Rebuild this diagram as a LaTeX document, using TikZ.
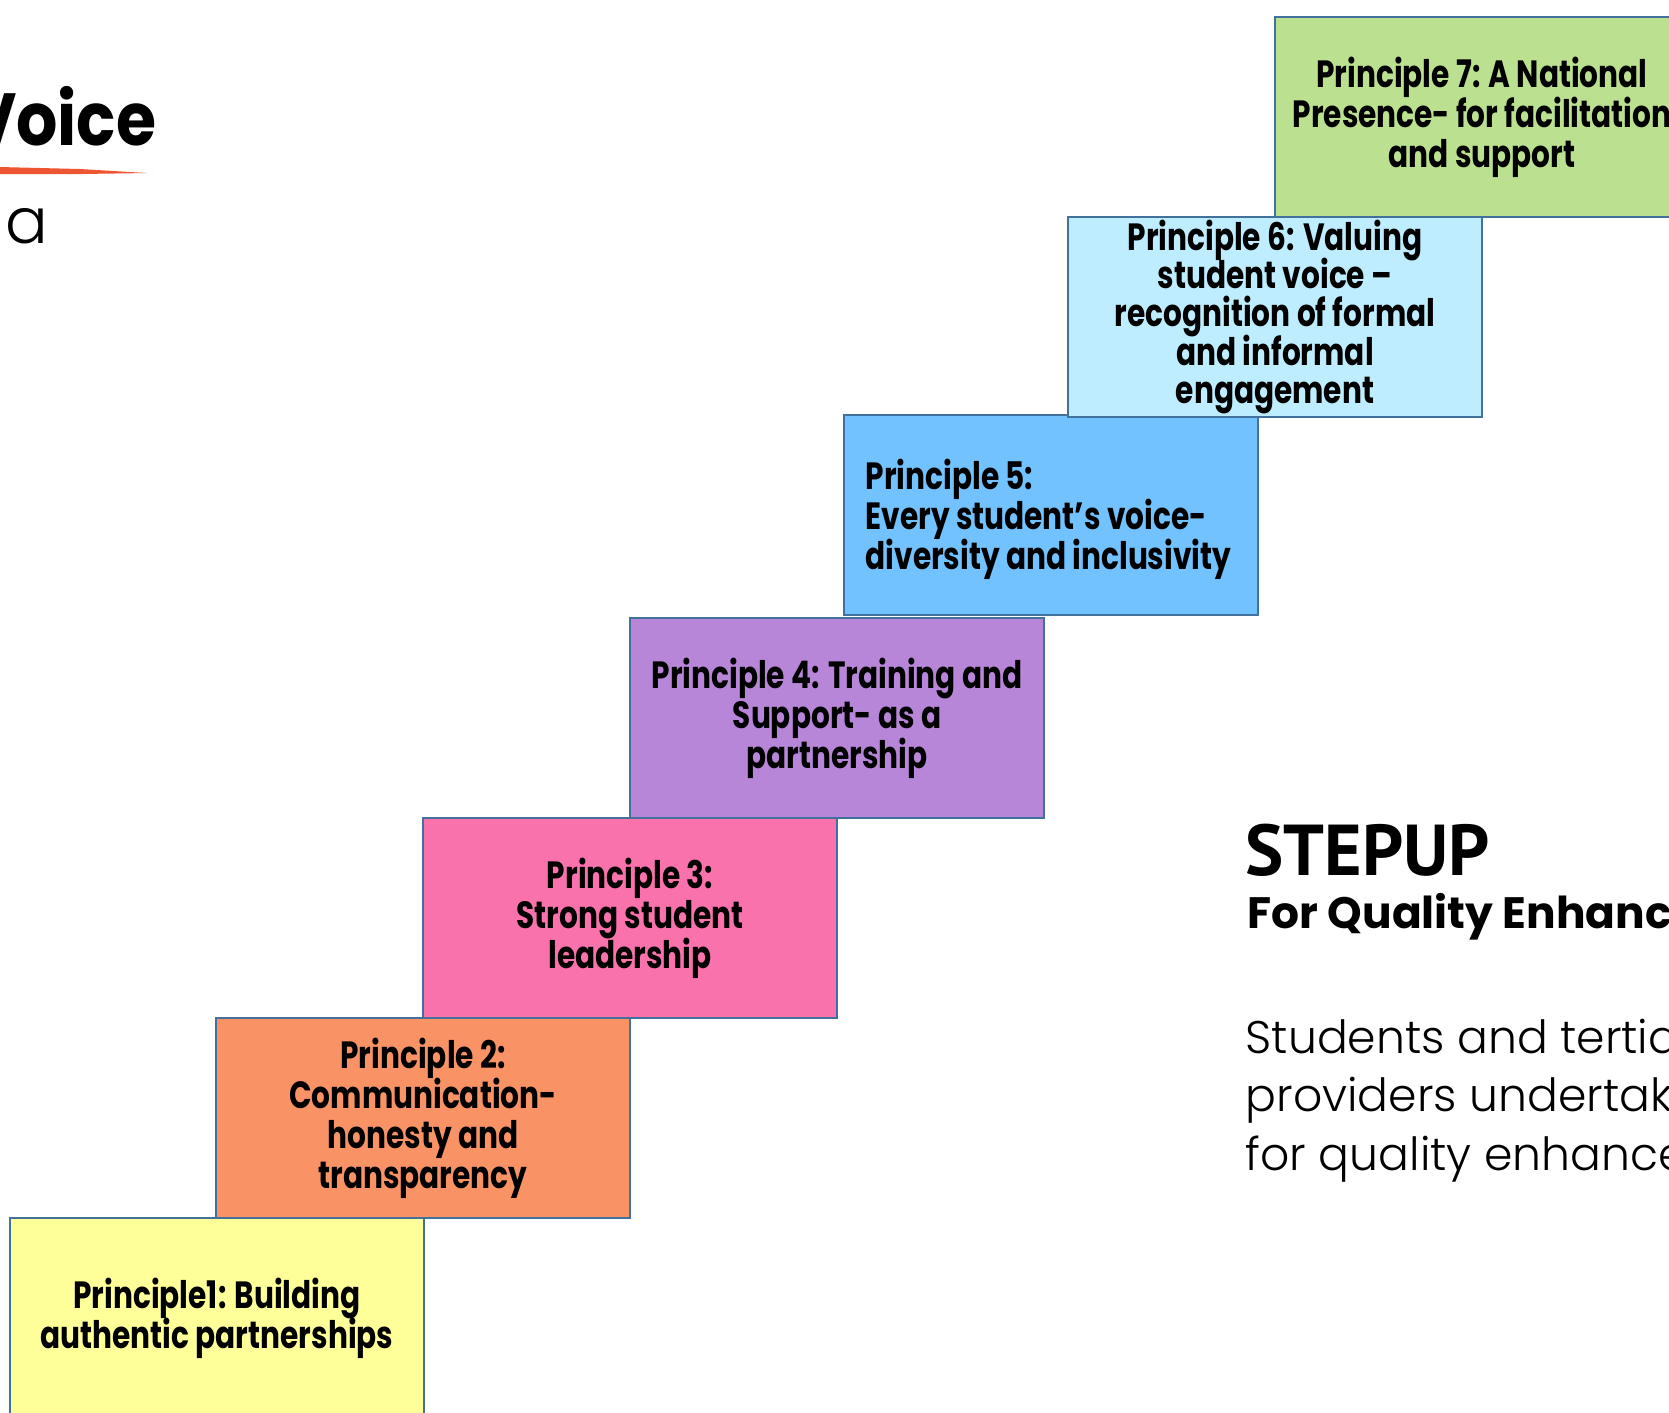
\documentclass[tikz,border=0pt]{standalone}
\usepackage{fontspec}
\setmainfont{Poppins}
\newfontfamily\stepfont{PT Sans}
\newfontfamily\condfont{Poppins}[FakeStretch=0.78]
\newfontfamily\voicefont{Poppins}[FakeStretch=0.88]
\newfontfamily\lightfont{Poppins}[UprightFont=* Light]
\usetikzlibrary{positioning}

\definecolor{edgeblue}{HTML}{41719C}
\definecolor{p1yellow}{HTML}{FFFF99}
\definecolor{p2orange}{HTML}{F99366}
\definecolor{p3pink}{HTML}{F972AC}
\definecolor{p4purple}{HTML}{B786D9}
\definecolor{p5blue}{HTML}{71C2FF}
\definecolor{p6cyan}{HTML}{BDEDFF}
\definecolor{p7green}{HTML}{BBE08F}
\definecolor{brushred}{HTML}{EE5533}

\newcommand{\tightlines}{\lineskiplimit=-100pt\relax}
\newcommand{\principlefont}{\condfont\bfseries\fontsize{10.8}{11.4}\selectfont\tightlines}
\newcommand{\denseprinciplefont}{\condfont\bfseries\fontsize{10.8}{10.85}\selectfont\tightlines}
\newcommand{\bodyfont}{\lightfont\fontsize{13}{16.6}\selectfont\tightlines}

\begin{document}
\begin{tikzpicture}[
  x=0.1mm, y=-0.1mm,
  principle/.style = {draw=edgeblue, line width=0.75pt, minimum width=41.4mm, minimum height=20mm,
    align=center, inner xsep=2pt, inner ysep=0pt, outer sep=0pt, font=\principlefont},
  principle_text/.style = {anchor=west, align=left, inner sep=0pt, font=\principlefont},
  title_text/.style = {anchor=base west, inner sep=0pt},
  body_text/.style = {anchor=base west, inner sep=0pt, align=left, font=\bodyfont}
]
\useasboundingbox (0,0) rectangle (1669,1412);
\clip (0,0) rectangle (1669,1412);

%--------------------------------------------------
% Heading (cut off at the left)
%--------------------------------------------------
\node[anchor=base east, inner sep=0pt, font=\voicefont\bfseries\fontsize{21}{21}\selectfont] (voice) at (157,145) {Voice};
\fill[brushred] (0,167) -- (80,169) -- (147,173) -- (80,174) -- (0,174) -- cycle;
\node[anchor=base west, inner sep=0pt, font=\lightfont\fontsize{18}{18}\selectfont] (subtitle) at (5,243) {a};

%--------------------------------------------------
% Steps (principles)
%--------------------------------------------------
\node[principle, fill=p1yellow] (p1) at (217,1318)
  {Principle1: Building\\authentic partnerships};
\node[principle, fill=p2orange] (p2) at (423,1118)
  {Principle 2:\\Communication-\\honesty and\\transparency};
\node[principle, fill=p3pink] (p3) at (630,918)
  {Principle 3:\\Strong student\\leadership};
\node[principle, fill=p4purple] (p4) at (837,718)
  {Principle 4: Training and\\Support- as a\\partnership};
\node[principle, fill=p5blue] (p5) at (1051,515) {};
\node[principle_text] (p5_text) at ([xshift=2.1mm, yshift=-0.4mm]p5.west)
  {Principle 5:\\Every student’s voice-\\diversity and inclusivity};
\node[principle, fill=p6cyan, font=\denseprinciplefont] (p6) at (1275,317)
  {Principle 6: Valuing\\student voice –\\recognition of formal\\and informal\\engagement};
\node[principle, fill=p7green] (p7) at (1482,117)
  {Principle 7: A National\\Presence- for facilitation\\and support};

%--------------------------------------------------
% STEPUP text
%--------------------------------------------------
\node[title_text, font=\stepfont\bfseries\fontsize{20.5}{20.5}\selectfont] (stepup) at (1245,875) {STEPUP};
\node[title_text, font=\bfseries\fontsize{12.5}{12.5}\selectfont] (quality) at (1247,928) {For Quality Enhancement};
\node[body_text] (students) at (1245,1170)
  {Students and tertiary\\providers undertake\\for quality enhancement};

\end{tikzpicture}
\end{document}
